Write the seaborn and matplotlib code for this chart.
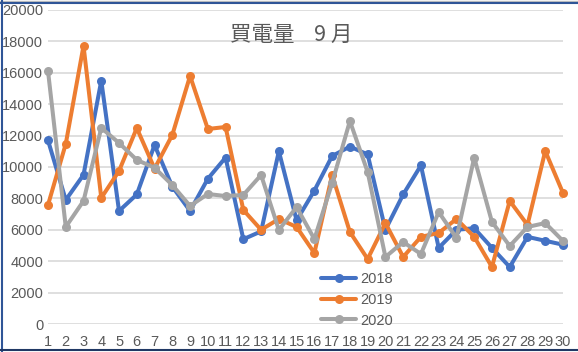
import numpy as np
import pandas as pd
import matplotlib
matplotlib.use("Agg")
import matplotlib.pyplot as plt
import seaborn as sns
from matplotlib.lines import Line2D

days = list(range(1, 31))
s2018 = [11700, 7900, 9500, 15500, 7200, 8250, 11400, 8750, 7200, 9250,
         10600, 5400, 5900, 11000, 6600, 8500, 10700, 11300, 10800, 6000,
         8250, 10100, 4850, 6000, 6100, 4850, 3630, 5550, 5300, 5050]
s2019 = [7580, 11470, 17720, 8030, 9750, 12480, 9900, 12040, 15800, 12420,
         12550, 7260, 6000, 6690, 6180, 4520, 9490, 5860, 4140, 6430,
         4270, 5550, 5800, 6690, 5550, 3630, 7840, 6310, 11020, 8340]
s2020 = [16120, 6180, 7840, 12490, 11530, 10450, 9950, 8850, 7520, 8280,
         8150, 8220, 9490, 5990, 7450, 5410, 8980, 12930, 9680, 4270,
         5220, 4460, 7130, 5480, 10600, 6500, 4970, 6180, 6430, 5290]
series_names = ["2018", "2019", "2020"]
colors = ["#4472C4", "#ED7D31", "#A5A5A5"]
title = "買電量    9 月"

df = pd.DataFrame({
    "day": days * 3,
    "value": s2018 + s2019 + s2020,
    "year": sum([[n] * len(days) for n in series_names], []),
})

sns.set_theme(style="white")
plt.rcParams["font.family"] = ["Noto Sans CJK JP", "DejaVu Sans"]

fig = plt.figure(figsize=(5.78, 3.52), dpi=100)
ax = fig.add_axes([48 / 578, 1 - 324 / 352, (563 - 48) / 578, (324 - 10) / 352])

sns.lineplot(data=df, x="day", y="value", hue="year", palette=colors,
             marker="o", markersize=6.5, markeredgewidth=0, linewidth=2.9,
             ax=ax, legend=False)
for ln in ax.lines:
    ln.set_clip_on(False)

ax.set_xlim(1, 30)
ax.set_ylim(0, 20000)
ax.set_yticks(np.arange(0, 20001, 2000))
ax.set_xticks(days)
ax.set_xticklabels([str(d) for d in days])
ax.grid(axis="y", color="#D9D9D9", linewidth=1.2)
ax.set_axisbelow(True)
for sp in ax.spines.values():
    sp.set_visible(False)
ax.tick_params(axis="both", length=0, colors="#595959", labelsize=10.5)
for lab in ax.get_xticklabels() + ax.get_yticklabels():
    lab.set_family(["Liberation Sans", "DejaVu Sans"])
ax.tick_params(axis="y", pad=3.5)
ax.tick_params(axis="x", pad=8)
ax.set_xlabel("")
ax.set_ylabel("")

fig.text(291 / 578, 1 - 35 / 352, title, ha="center", va="center",
         fontsize=15.5, color="#595959")

handles = [Line2D([0], [0], color=c, linewidth=2.9, marker="o",
                  markersize=6.5, markeredgewidth=0) for c in colors]
leg = fig.legend(handles, series_names, loc="center left",
                 bbox_to_anchor=(308 / 578, 1 - 300 / 352), frameon=False,
                 handlelength=2.4, handletextpad=0.3, labelspacing=0.45,
                 prop={"family": ["Liberation Sans", "DejaVu Sans"], "size": 10.5})
for t in leg.get_texts():
    t.set_color("#595959")

# outer frame lines
fig.add_artist(Line2D([0, 1], [1 - 0.5 / 352] * 2, transform=fig.transFigure, color="#BFBFBF", linewidth=1))
fig.add_artist(Line2D([0, 1], [1 - 2.5 / 352] * 2, transform=fig.transFigure, color="#2F5597", linewidth=1.5))
fig.add_artist(Line2D([1.5 / 578] * 2, [0, 1], transform=fig.transFigure, color="#2F5597", linewidth=1.5))
fig.add_artist(Line2D([0, 1], [2.5 / 352] * 2, transform=fig.transFigure, color="#203864", linewidth=1.5))

fig.savefig("out.png", dpi=100)
